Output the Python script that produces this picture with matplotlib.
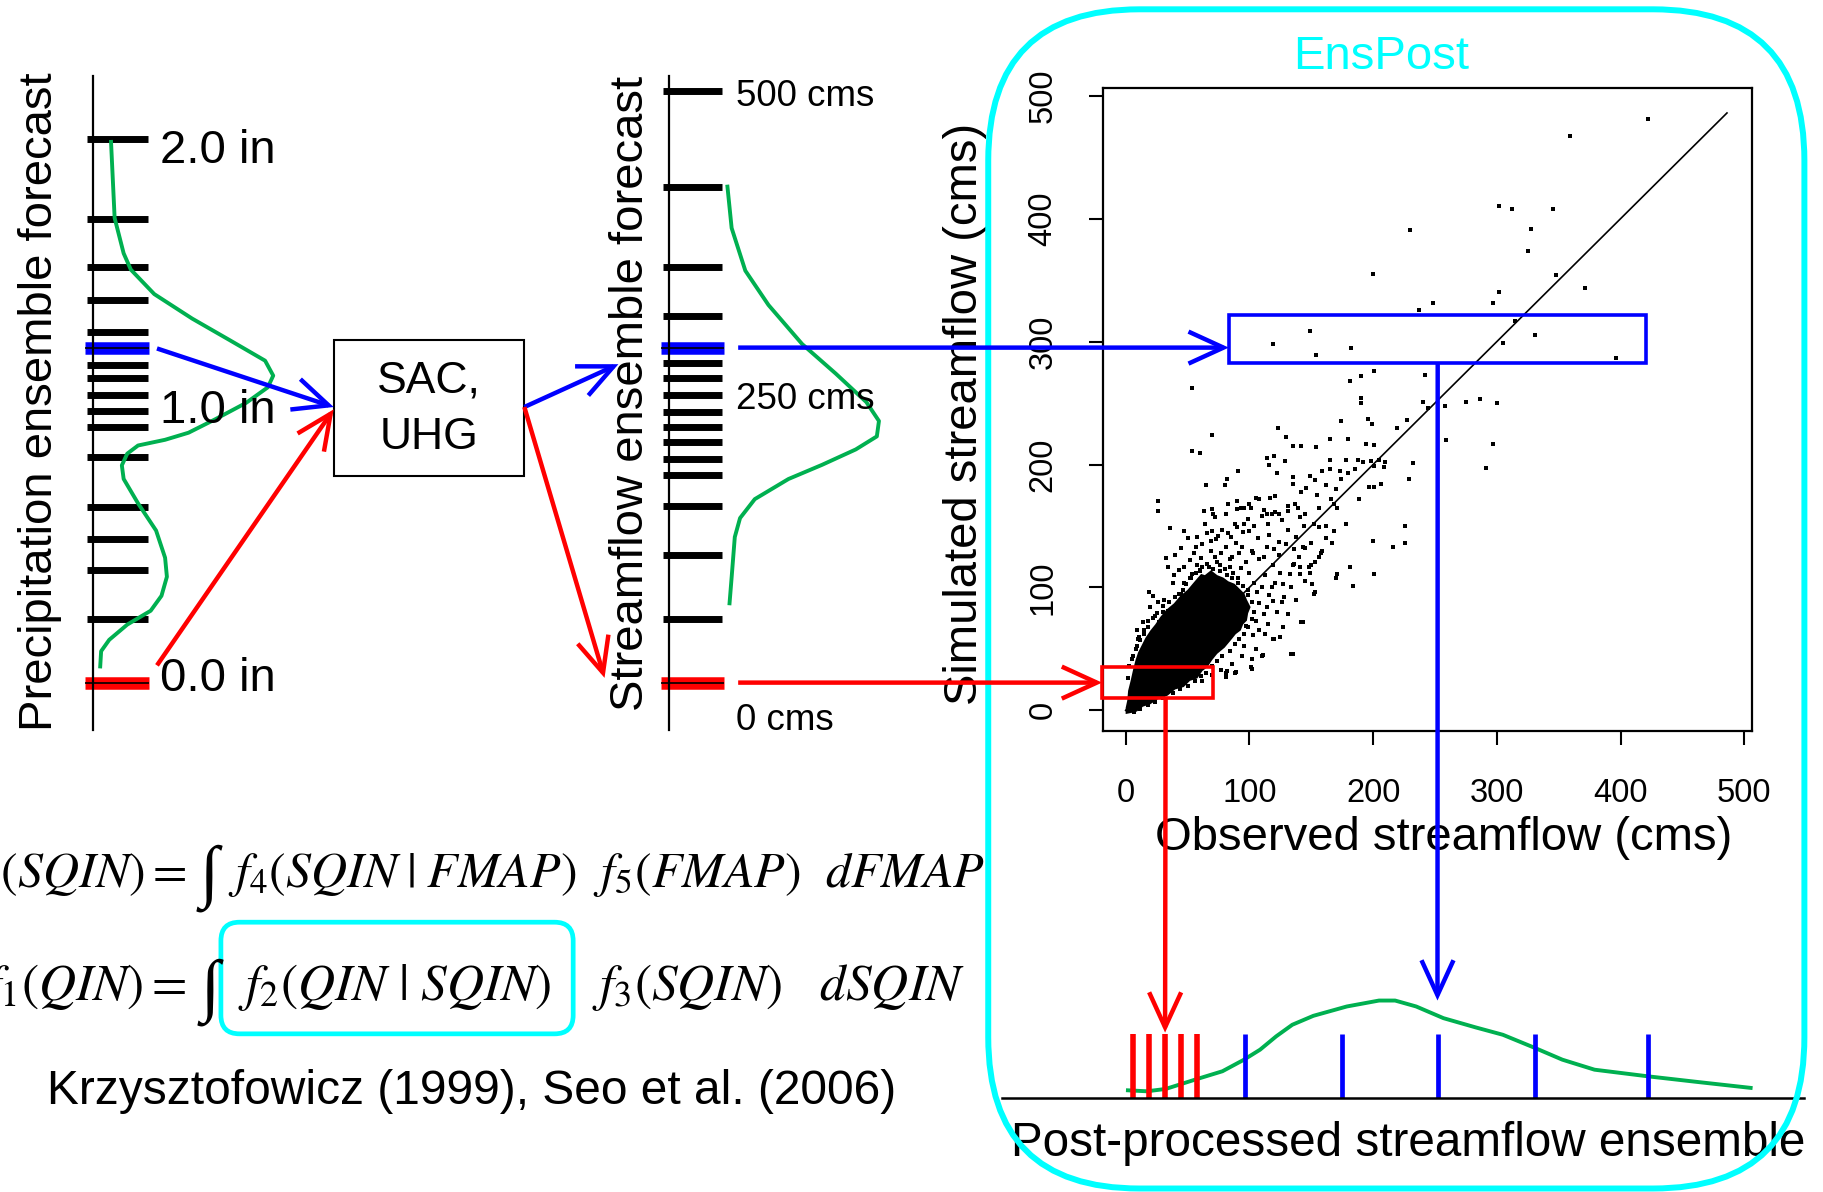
import matplotlib
matplotlib.use('Agg')
import matplotlib.pyplot as plt
from matplotlib.patches import FancyBboxPatch, Rectangle, ConnectionPatch
from matplotlib.transforms import blended_transform_factory

plt.rcParams['font.family'] = ['Liberation Sans', 'DejaVu Sans']
plt.rcParams['mathtext.fontset'] = 'stix'

GREEN = '#00B050'
CYAN = '#00FFFF'

# precipitation ensemble (in) and its density
precip_members = [2.0, 1.705, 1.53, 1.41, 1.29, 1.23, 1.17, 1.12, 1.06, 1.0,
                  0.94, 0.83, 0.645, 0.53, 0.415, 0.235, 0.0]
precip_blue = 1.23
precip_red = 0.0
precip_pdf_in = [1.99, 1.71, 1.58, 1.52, 1.43, 1.34, 1.26, 1.185, 1.13, 1.087,
                 1.03, 0.97, 0.92, 0.894, 0.873, 0.843, 0.80, 0.75, 0.66, 0.56,
                 0.46, 0.39, 0.32, 0.265, 0.214, 0.158, 0.116, 0.06]
precip_pdf_d = [0.10, 0.12, 0.17, 0.21, 0.34, 0.55, 0.76, 0.955, 1.0, 0.97,
                0.85, 0.68, 0.53, 0.40, 0.25, 0.19, 0.16, 0.17, 0.25, 0.35,
                0.40, 0.41, 0.38, 0.32, 0.19, 0.09, 0.045, 0.04]
precip_labels = ['2.0 in', '1.0 in', '0.0 in']
precip_label_pos = [1.955, 1.001, 0.013]

# streamflow ensemble (cms) and its density
flow_members = [500, 419, 351, 310, 283, 270, 257, 243, 229, 216, 203, 189,
                175, 149, 108, 54, 0]
flow_blue = 283
flow_red = 0
flow_pdf_cms = [419, 384, 348, 319, 286, 261, 237, 221, 208, 197, 184, 172,
                155, 139, 123, 89, 67]
flow_pdf_d = [0.28, 0.30, 0.365, 0.475, 0.635, 0.795, 0.94, 1.0, 0.99, 0.89,
              0.73, 0.57, 0.41, 0.34, 0.315, 0.30, 0.29]
flow_labels = ['500 cms', '250 cms', '0 cms']
flow_label_pos = [495, 239, -32]

# observed vs simulated scatter: isolated points
outliers = [(230, 391), (200, 355), (237, 326), (149, 309), (119, 298), (154, 289),
            (182, 295), (54, 262), (181, 268), (190, 272), (201, 276), (242, 273),
            (190, 254), (190, 250), (240, 251), (244, 246), (422, 481), (359, 467),
            (302, 410), (312, 408), (345, 408), (328, 392), (325, 374), (348, 354),
            (371, 344), (302, 340), (297, 331), (248, 331), (315, 317), (331, 305),
            (305, 299), (396, 287), (258, 248), (275, 251), (286, 253), (300, 250),
            (259, 220), (297, 217), (291, 197), (123, 230), (174, 235), (196, 237),
            (199, 233), (219, 230), (227, 236), (70, 224), (130, 222), (165, 221),
            (180, 221), (54, 211), (60, 209), (135, 215), (142, 215), (154, 214),
            (194, 217), (201, 216), (114, 205), (120, 207), (129, 203), (116, 200),
            (165, 204), (165, 196), (178, 204), (188, 204), (192, 202), (198, 203),
            (201, 199), (205, 204), (210, 202), (209, 198), (232, 201), (91, 195),
            (122, 193), (135, 190), (135, 184), (149, 191), (153, 187), (159, 195),
            (173, 195), (174, 188), (180, 193), (185, 196), (229, 188), (65, 183),
            (80, 183), (82, 188), (142, 178), (146, 181), (155, 175), (162, 183),
            (170, 180), (197, 182), (201, 182), (206, 184), (189, 172), (105, 173),
            (117, 173), (121, 174), (26, 170), (26, 162), (83, 168), (90, 170),
            (93, 165), (96, 165), (101, 165), (112, 163), (114, 160), (118, 160),
            (124, 160), (131, 162), (137, 168), (139, 165), (141, 157), (145, 160),
            (156, 165), (166, 172), (168, 168), (171, 165), (63, 162), (70, 164),
            (71, 160), (36, 148), (47, 146), (70, 146), (75, 142), (83, 144),
            (90, 149), (96, 152), (100, 146), (152, 152), (156, 149), (162, 150),
            (168, 146), (178, 152), (200, 138), (216, 133), (226, 136), (226, 150),
            (167, 136), (150, 136), (143, 133), (136, 131), (33, 124), (34, 117),
            (43, 114), (54, 111), (60, 113), (156, 125), (159, 130), (153, 121),
            (181, 117), (171, 111), (170, 108), (184, 101), (201, 111), (153, 96),
            (149, 112), (136, 119), (141, 117), (19, 96), (22, 93), (143, 72),
            (120, 58), (111, 45), (102, 42), (135, 46), (102, 34), (88, 30),
            (81, 27), (82, 32), (14, 72), (9, 65)]
# speckled points around the dense core
halo = [(43, 114), (52, 108), (60, 114), (69, 130), (72, 125), (76, 118), (81, 133),
        (84, 123), (89, 136), (92, 128), (97, 121), (102, 130), (108, 123), (114, 133),
        (119, 118), (124, 126), (130, 135), (135, 118), (141, 111), (148, 117),
        (152, 95), (151, 103), (134, 100), (133, 111), (127, 103), (119, 89),
        (126, 88), (114, 84), (108, 87), (105, 73), (97, 69), (108, 65), (119, 58),
        (110, 44), (101, 35), (89, 31), (81, 30), (134, 46), (142, 72), (43, 95),
        (45, 87), (34, 81), (30, 80), (24, 77), (15, 65), (12, 57), (14, 48),
        (27, 72), (36, 75), (51, 92), (55, 100), (47, 104), (61, 102), (66, 105),
        (45, 95), (52, 122), (47, 117), (61, 124), (57, 133), (69, 138), (55, 128),
        (62, 135), (58, 141), (66, 144), (73, 139), (78, 147), (85, 141), (88, 152),
        (95, 145), (99, 156), (104, 150), (110, 158), (115, 152), (121, 161),
        (126, 155), (131, 166), (107, 140), (116, 143), (124, 137), (131, 147),
        (138, 141), (144, 150), (64, 152), (72, 157), (81, 160), (90, 164),
        (100, 168), (108, 172), (77, 128), (86, 125), (94, 133), (103, 128),
        (112, 125), (120, 131), (45, 132), (50, 140), (40, 126), (115, 70),
        (122, 80), (128, 92), (112, 78), (118, 100), (125, 112), (140, 125),
        (145, 132), (138, 90), (145, 105), (150, 118), (158, 128), (162, 140),
        (74, 121), (80, 115), (87, 112), (93, 116), (100, 112), (104, 104),
        (106, 96), (110, 100), (99, 98), (113, 110), (116, 94), (121, 104),
        (84, 117), (91, 108), (66, 119), (58, 118), (38, 104), (31, 90), (20, 84),
        (26, 88), (18, 73), (8, 50), (6, 44), (10, 58), (39, 110), (103, 61),
        (113, 62), (94, 44), (86, 38), (77, 33), (70, 29), (62, 24), (105, 50),
        (96, 52), (127, 68), (131, 78), (125, 60),
        (2, 26), (3, 36), (5, 42), (9, 52), (11, 60), (15, 62), (18, 68), (22, 75),
        (25, 79), (30, 85), (35, 88), (40, 92), (46, 98), (49, 103), (53, 108),
        (57, 112), (62, 117), (67, 117), (71, 115), (76, 113), (82, 110), (86, 108),
        (91, 104), (95, 101), (99, 94), (102, 88), (104, 80), (102, 74), (99, 68),
        (96, 62), (92, 58), (88, 54), (84, 48), (78, 44), (74, 40), (70, 36),
        (65, 30), (61, 28), (56, 24), (50, 20), (44, 17), (38, 14), (30, 10),
        (24, 7), (18, 4), (12, 1), (7, -1)]
# outline of the solid black core of the cloud
core_obs = [0, 5, 9, 14, 20, 26, 34, 40, 47, 52, 58, 62, 66, 70, 74, 80, 85, 89,
            93, 95, 98, 99, 101, 98, 96, 92, 88, 83, 79, 74, 69, 64, 61, 55, 50,
            44, 39, 33, 28, 24, 20, 16, 13.5, 10, 8, 6, 4, 2, 1.3, 0]
core_sim = [-3, -2, -1, 3, 5, 9, 12, 17, 19, 24, 26, 32, 35, 41, 46, 51, 57, 62,
            65, 70, 73, 79, 84, 90, 95, 99, 103, 105, 108, 110, 114, 110, 111,
            104, 98, 93, 87, 82, 76, 70, 65, 59, 54, 47, 41, 33, 24, 16, 8, 2]
one_to_one = [0, 486]
blue_box = (83.4, 282.6, 420.7, 321.4)   # obs0, sim0, obs1, sim1
red_box = (-19, 10, 71, 35)
blue_obs = 252.2
red_obs = 32.3

# post-processed ensemble (cms) and density
post_red = [6, 19, 32, 45, 58]
post_blue = [97, 175, 253, 331, 422]
post_pdf_obs = [2.3, 17.6, 32.8, 56.8, 78.6, 96, 109, 122, 135, 152, 179, 205,
                218, 235, 257, 283, 305, 331, 353, 379, 422, 462, 505]
post_pdf_d = [0.077, 0.067, 0.091, 0.188, 0.273, 0.392, 0.495, 0.632, 0.751,
              0.843, 0.939, 1.0, 1.0, 0.939, 0.819, 0.724, 0.648, 0.512, 0.392,
              0.289, 0.221, 0.163, 0.102]

W, H = 1568.0, 1025.0  # layout grid of the reference


def rect(x0, y0, x1, y1):
    return [x0 / W, 1 - y1 / H, (x1 - x0) / W, (y1 - y0) / H]


def arrow(xyA, cA, xyB, cB, color):
    con = ConnectionPatch(xyA=xyA, coordsA=cA, xyB=xyB, coordsB=cB,
                          arrowstyle='->,head_length=0.7,head_width=0.32',
                          mutation_scale=36, color=color, lw=3.2, zorder=10,
                          capstyle='butt', joinstyle='miter')
    fig.add_artist(con)


def strip(box, ylim, members, blue, red, pdf_v, pdf_d, tick_x, labels, label_pos, label_x, fs):
    ax = fig.add_axes(rect(*box))
    ax.set_xlim(0, 1)
    ax.set_ylim(*ylim)
    for s in ['top', 'right', 'bottom']:
        ax.spines[s].set_visible(False)
    ax.spines['left'].set_linewidth(1.6)
    ax.set_xticks([])
    ax.set_yticks([])
    ax.patch.set_alpha(0)
    for v in members:
        ax.plot(tick_x, [v, v], color='black', lw=5, solid_capstyle='butt', clip_on=False)
    wide = [tick_x[0] - 0.01, tick_x[1] + 0.01]
    for v, c in [(blue, 'blue'), (red, 'red')]:
        ax.plot(wide, [v, v], color=c, lw=9, solid_capstyle='butt', clip_on=False)
        ax.plot(wide, [v, v], color='black', lw=1.2, solid_capstyle='butt', clip_on=False)
    ax.plot(pdf_d, pdf_v, color=GREEN, lw=2.8, clip_on=False)
    for t, p in zip(labels, label_pos):
        ax.text(label_x, p, t, fontsize=fs, ha='left', va='center')
    return ax


fig = plt.figure(figsize=(18.23, 11.92), dpi=100)
ov = fig.add_axes([0, 0, 1, 1], zorder=5)
ov.set_xlim(0, W)
ov.set_ylim(H, 0)
ov.axis('off')

# precipitation strip
p_ax = strip((80, 65, 235, 628), (-0.175, 2.234), precip_members, precip_blue, precip_red,
             precip_pdf_in, precip_pdf_d, [-0.032, 0.303], precip_labels,
             precip_label_pos, 0.374, 34)
ov.text(34, 345, 'Precipitation ensemble forecast', rotation=90, ha='center',
        va='center', fontsize=34)

# streamflow strip
f_ax = strip((575, 65, 756, 628), (-40.3, 512.8), flow_members, flow_blue, flow_red,
             flow_pdf_cms, flow_pdf_d, [-0.028, 0.254], flow_labels,
             flow_label_pos, 0.32, 26.5)
ov.text(543, 338, 'Streamflow ensemble forecast', rotation=90, ha='center',
        va='center', fontsize=34)

# hydrologic model box
ov.add_patch(Rectangle((287, 292), 164, 117, fill=False, lw=1.5, ec='black'))
ov.text(369, 352, 'SAC,\nUHG', ha='center', va='center', fontsize=32, linespacing=1.5)

arrow((0.355, precip_blue), p_ax.transData, (287, 350), ov.transData, 'blue')
arrow((0.355, 0.064), p_ax.transData, (287, 352), ov.transData, 'red')
arrow((451, 350), ov.transData, (-0.238, 269), f_ax.transData, 'blue')
arrow((451, 350), ov.transData, (-0.304, 4), f_ax.transData, 'red')

# scatter of simulated vs observed
sc = fig.add_axes(rect(948.5, 76, 1506.7, 628.8))
o_obs, o_sim = zip(*outliers)
h_obs, h_sim = zip(*halo)
sc.fill(core_obs, core_sim, color='black', lw=0)
sc.scatter(o_obs + h_obs, o_sim + h_sim, s=5, marker='s', color='black', lw=0)
sc.plot(one_to_one, one_to_one, color='black', lw=1.2)
sc.set_xlim(-18.5, 506)
sc.set_ylim(-17, 506)
sc.set_xticks(range(0, 501, 100))
sc.set_yticks(range(0, 501, 100))
sc.tick_params(direction='out', length=10, width=1.5, labelsize=23.5, pad=24)
sc.tick_params(axis='y', labelrotation=90, pad=22)
for lab in sc.get_yticklabels():
    lab.set_va('center')
for sp in sc.spines.values():
    sp.set_linewidth(1.6)
sc.set_xlabel('Observed streamflow (cms)', fontsize=34, va='center', ha='center')
sc.xaxis.set_label_coords(0.526, -0.166)
sc.set_ylabel('Simulated streamflow (cms)', fontsize=34, va='center', ha='center')
sc.yaxis.set_label_coords(-0.212, 0.4935)
sc.add_patch(Rectangle((blue_box[0], blue_box[1]), blue_box[2] - blue_box[0],
                       blue_box[3] - blue_box[1], fill=False, ec='blue', lw=2.6,
                       clip_on=False, zorder=4))
sc.add_patch(Rectangle((red_box[0], red_box[1]), red_box[2] - red_box[0],
                       red_box[3] - red_box[1], fill=False, ec='red', lw=2.6,
                       clip_on=False, zorder=4))

# post-processed ensemble
bt = fig.add_axes(rect(862, 850, 1552, 944))
bt.set_xlim(-99.2, 548.4)
bt.set_ylim(0, 1.124)
for s in ['top', 'right', 'left']:
    bt.spines[s].set_visible(False)
bt.spines['bottom'].set_linewidth(1.8)
bt.set_xticks([])
bt.set_yticks([])
bt.patch.set_alpha(0)
bt.plot(post_pdf_obs, post_pdf_d, color=GREEN, lw=2.8)
bt.vlines(post_red, 0, 0.66, color='red', lw=4)
bt.vlines(post_blue, 0, 0.66, color='blue', lw=3.4)

# links between panels
fb = blended_transform_factory(sc.transData, f_ax.transData)
arrow((0.331, flow_blue), f_ax.transData, (blue_box[0], flow_blue), fb, 'blue')
arrow((0.331, flow_red), f_ax.transData, (red_box[0], flow_red), fb, 'red')
arrow((red_obs, red_box[1]), sc.transData, (red_obs, 0.67), bt.transData, 'red')
arrow((blue_obs, blue_box[1]), sc.transData, (blue_obs, 1.0), bt.transData, 'blue')

ov.text(1211, 983, 'Post-processed streamflow ensemble', ha='center', va='center',
        fontsize=34.3)

# EnsPost frame
ov.add_patch(FancyBboxPatch((850, 8), 702, 1014, boxstyle='round,pad=0,rounding_size=130',
                            fill=False, ec=CYAN, lw=4.3, zorder=6))
ov.text(1188, 49, 'EnsPost', color=CYAN, ha='center', va='center', fontsize=34)

# Bayesian equations
SERIF = ['Liberation Serif', 'DejaVu Serif']
ov.text(160, 763, r'$f_3(SQIN) =$', ha='right', va='baseline', fontsize=36)
ov.text(180, 755, '\u222b', ha='center', va='center', fontsize=50, family=SERIF)
ov.text(196, 763, r'$f_4(SQIN\;|\;FMAP)\ \ f_5(FMAP)\ \ dFMAP$', ha='left',
        va='baseline', fontsize=36)
ov.text(160, 860, r'$f_1(QIN) =$', ha='right', va='baseline', fontsize=37)
ov.text(181, 853, '\u222b', ha='center', va='center', fontsize=50, family=SERIF)
ov.text(205, 860, r'$f_2(QIN\ |\ SQIN)$', ha='left', va='baseline', fontsize=37)
ov.text(509, 860, r'$f_3(SQIN)\ \ \ dSQIN$', ha='left', va='baseline', fontsize=37)
ov.add_patch(FancyBboxPatch((190, 793), 303, 96, boxstyle='round,pad=0,rounding_size=16',
                            fill=False, ec=CYAN, lw=3.4))
ov.text(406, 939, 'Krzysztofowicz (1999), Seo et al. (2006)', ha='center', va='center',
        fontsize=34.5)

fig.savefig('out.png', dpi=100)
